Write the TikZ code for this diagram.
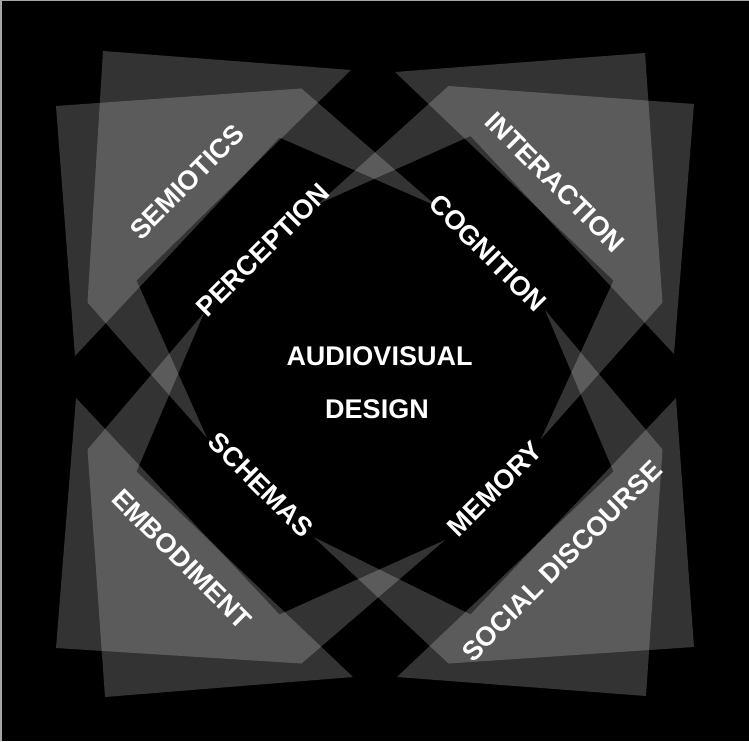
\documentclass[tikz,border=0pt]{standalone}
\usepackage{fontspec}
\setmainfont{Liberation Sans}
\tikzset{
  pane/.style={fill=white, fill opacity=0.2},
  lbl/.style={text=white, font=\fontsize{27}{31}\selectfont\bfseries, inner sep=0pt},
}
\begin{document}
\begin{tikzpicture}[x=1pt, y=-1pt]
  % Background
  \useasboundingbox (0,0) rectangle (749,741);
  \fill[black] (0,0) rectangle (749,741);
  \draw[gray!70, line width=1.5pt] (0.75,741) -- (0.75,0.75) -- (749,0.75);
  % Top left panes
  \fill[pane] (56,106) -- (301.5,88.5) -- (436.5,206) -- (279.5,137.5) -- (75,356) -- cycle;
  \fill[pane] (103,51) -- (351,70) -- (136.5,280.5) -- (207,438) -- (87.5,302.5) -- cycle;
  % Top right panes
  \fill[pane] (694,104) -- (448.5,86) -- (318,204) -- (470.5,136) -- (674,354) -- cycle;
  \fill[pane] (645,53) -- (395,72) -- (613.5,280.5) -- (541,439) -- (662.5,302.5) -- cycle;
  % Bottom left panes
  \fill[pane] (56,648) -- (301.5,663.5) -- (445,540) -- (279.5,614.5) -- (76,398) -- cycle;
  \fill[pane] (105,697) -- (353,677) -- (136.5,471.5) -- (204,313) -- (87.5,449.5) -- cycle;
  % Bottom right panes
  \fill[pane] (694,647) -- (448.5,663.5) -- (313.5,537) -- (470.5,614.5) -- (676,398) -- cycle;
  \fill[pane] (646,696) -- (397,677) -- (613.5,471.5) -- (545,310) -- (662.5,449.5) -- cycle;
  % Outer labels
  \node[lbl, rotate=45] (semiotics) at (187,182) {SEMIOTICS};
  \node[lbl, rotate=-45] (interaction) at (555,182) {INTERACTION};
  \node[lbl, rotate=-45] (embodiment) at (182,559) {EMBODIMENT};
  \node[lbl, rotate=45] (social) at (562,561) {SOCIAL DISCOURSE};
  % Inner labels
  \node[lbl, rotate=45] (perception) at (263,250) {PERCEPTION};
  \node[lbl, rotate=-45] (cognition) at (488,253) {COGNITION};
  \node[lbl, rotate=-45] (schemas) at (261,485) {SCHEMAS};
  \node[lbl, rotate=45] (memory) at (495,489) {MEMORY};
  % Centre
  \node[lbl] (audiovisual) at (379.5,356) {AUDIOVISUAL};
  \node[lbl] (design) at (377,409) {DESIGN};
\end{tikzpicture}
\end{document}
